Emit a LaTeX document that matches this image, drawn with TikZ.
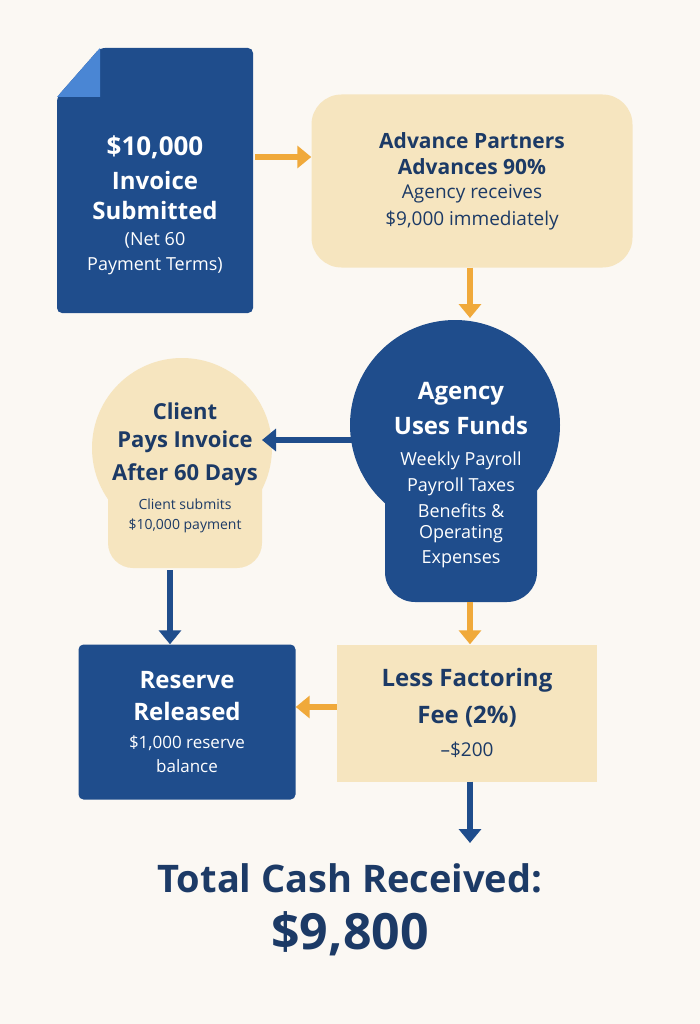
\documentclass[tikz,border=0pt]{standalone}
\usepackage{fontspec}
\setmainfont{Open Sans}
\usetikzlibrary{arrows.meta}
\definecolor{navy}{HTML}{1F4D8C}
\definecolor{dnavy}{HTML}{1C3A66}
\definecolor{cream}{HTML}{F6E5BF}
\definecolor{org}{HTML}{F0A93A}
\definecolor{bg}{HTML}{FBF8F3}
\definecolor{lblue}{HTML}{4A86D4}
\newcommand{\B}[1]{\fontsize{#1}{#1}\selectfont\bfseries}
\newcommand{\R}[1]{\fontsize{#1}{#1}\selectfont\mdseries}
\begin{document}
\begin{tikzpicture}[x=1pt,y=-1pt,
  oarr/.style={org,line width=6pt,-{Triangle[length=14pt,width=22pt]}},
  barr/.style={navy,line width=6pt,-{Triangle[length=14pt,width=22pt]}},
  txt/.style={align=center,inner sep=0pt}]
\fill[bg] (0,0) rectangle (700,1024);
\useasboundingbox (0,0) rectangle (700,1024);
% invoice document
\fill[navy,rounded corners=5pt] (100,48) -- (253,48) -- (253,313) -- (57,313) -- (57,97) -- cycle;
\fill[lblue] (57,97) -- (100,48) -- (100,97) -- cycle;
\node[txt,text=white] (inv) at (155,205) {\B{26}\$10,000\\[12pt] \B{24}Invoice\\[10pt] \B{24}Submitted\\[12pt] \R{18}(Net 60\\[8pt] \R{18}Payment Terms)};
\coordinate (invR) at (255,157);
% advance box
\node[fill=cream,rounded corners=30pt,minimum width=321pt,minimum height=173pt] (adv) at (472,181) {};
\node[txt,text=dnavy] at (adv) {\B{21}Advance Partners\\[9pt] \B{21}Advances 90\%\\[9pt] \R{19}Agency receives\\[7pt] \R{19}\$9,000 immediately};
\draw[oarr] (invR) -- (adv.west |- invR);
% agency uses funds
\fill[navy] (455,425) circle (105);
\fill[navy,rounded corners=30pt] (385,430) rectangle (537,602);
\node[txt,text=white] (use) at (461,475) {\B{24}Agency\\[10pt] \B{24}Uses Funds\\[16pt] \R{18}Weekly Payroll\\[7pt] \R{18}Payroll Taxes\\[7pt] \R{18}Benefits \&\\[7pt] \R{18}Operating\\[7pt] \R{18}Expenses};
\coordinate (useN) at (470,318);
\coordinate (useW) at (352,440);
\coordinate (useS) at (470,602);
\draw[oarr] (adv.south -| useN) -- (useN);
% client pays
\fill[cream] (182,448) circle (90);
\fill[cream,rounded corners=25pt] (108,450) rectangle (262,568);
\node[txt,text=dnavy] (cli) at (185,468) {\B{22}Client\\[10pt] \B{22}Pays Invoice\\[10pt] \B{22}After 60 Days\\[12pt] \R{14}Client submits\\[8pt] \R{14}\$10,000 payment};
\coordinate (cliE) at (262,440);
\coordinate (cliS) at (170,570);
\draw[barr] (useW) -- (cliE);
% reserve
\node[fill=navy,rounded corners=5pt,minimum width=217pt,minimum height=155pt] (res) at (187,722) {};
\node[txt,text=white] at (res) {\B{24}Reserve\\[12pt] \B{24}Released\\[14pt] \R{17}\$1,000 reserve\\[8pt] \R{17}balance};
\draw[barr] (cliS) -- (res.north -| cliS);
% fee
\node[fill=cream,minimum width=260pt,minimum height=137pt] (fee) at (467,713) {};
\node[txt,text=dnavy] at (fee) {\B{24}Less Factoring\\[12pt] \B{24}Fee (2\%)\\[14pt] \R{19}--\$200};
\draw[oarr] (useS) -- (fee.north -| useS);
\draw[oarr] (fee.west |- 0,707) -- (res.east |- 0,707);
% total
\node[txt,text=dnavy] (tot) at (350,910) {\B{38}Total Cash Received:\\[18pt] \B{50}\$9,800};
\coordinate (totN) at (470,843);
\draw[barr] (fee.south -| totN) -- (totN);
\end{tikzpicture}
\end{document}
